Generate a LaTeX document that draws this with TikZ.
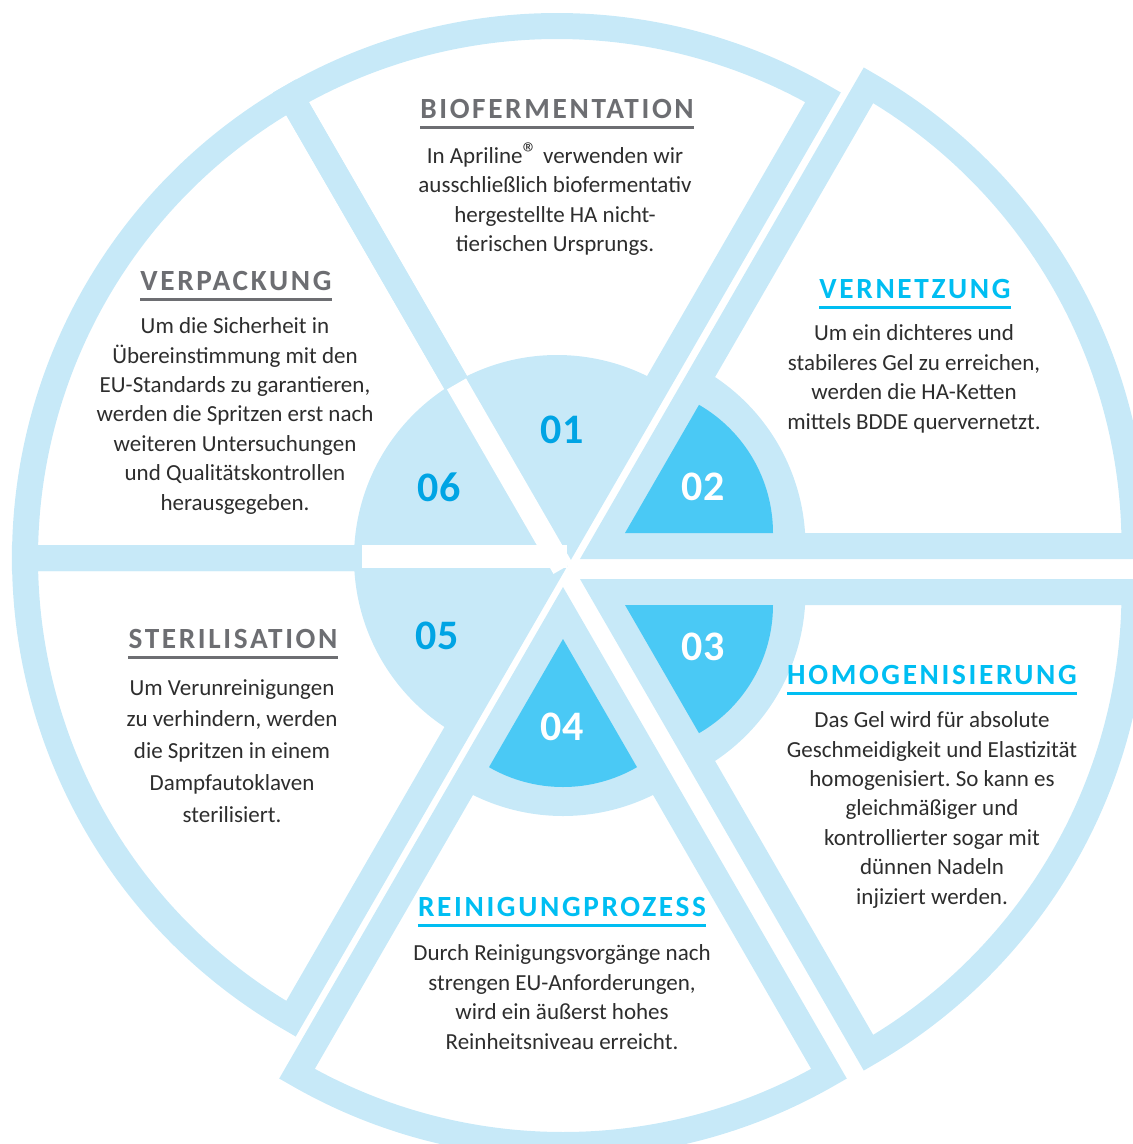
\documentclass[tikz,border=0pt]{standalone}
\usepackage{fontspec}
\setmainfont{Carlito}
\newfontfamily\hdfont[LetterSpace=9, UprightFont={* Bold}, BoldFont={* Bold}]{Carlito}
\usetikzlibrary{calc}
\definecolor{lb}{RGB}{199,233,248}
\definecolor{db}{RGB}{74,201,245}
\definecolor{nb}{RGB}{0,164,228}
\definecolor{hb}{RGB}{0,190,242}
\definecolor{hg}{RGB}{109,110,114}
\definecolor{tx}{RGB}{45,45,45}
\frenchspacing
\tikzset{
 band/.style={draw=lb, line width=26pt, line join=miter, line cap=butt},
 lite/.style={fill=lb},
 dark/.style={fill=db},
 gap/.style={fill=white},
 num/.style={font=\bfseries\fontsize{42}{42}\selectfont, inner sep=0pt},
 hd/.style={font=\hdfont\fontsize{29.3}{30}\selectfont, inner sep=0pt, anchor=base},
 body/.style={font=\fontsize{23}{29.4}\selectfont, text=tx, align=center, inner sep=0pt, anchor=base},
 rule/.style={line width=3pt}
}
\begin{document}
\begin{tikzpicture}[x=1pt,y=-1pt]
\useasboundingbox (0,0) rectangle (1133,1144);
\clip (0,0) rectangle (1133,1144);
\coordinate (O) at (557,558);
\coordinate (P2) at (602.5,546);
\coordinate (P3) at (602.5,592);
\coordinate (P4) at (563,613);
\coordinate (A2) at (625,533);
\coordinate (A3) at (625,605);
\coordinate (A4) at (563,639);
% outer bands
\draw[band] (O) -- ($(O)+(-120:532)$) arc[start angle=-120,end angle=-60,radius=532] -- (O);
\draw[band] (O) -- ($(O)+(180:532)$) arc[start angle=180,end angle=240,radius=532] -- (O);
\draw[band] (O) -- ($(O)+(120:532)$) arc[start angle=120,end angle=180,radius=532] -- (O);
\draw[band] (P2) -- ($(P2)+(-60:532)$) arc[start angle=-60,end angle=0,radius=532] -- cycle;
\draw[band] (P3) -- ($(P3)+(0:532)$) arc[start angle=0,end angle=60,radius=532] -- cycle;
\draw[band] (P4) -- ($(P4)+(60:532)$) arc[start angle=60,end angle=120,radius=532] -- cycle;
% inner light parts
\fill[lite] (O) -- ($(O)+(-120:203)$) arc[start angle=-120,end angle=-60,radius=203] -- cycle;
\fill[lite] (O) -- ($(O)+(180:203)$) arc[start angle=180,end angle=240,radius=203] -- cycle;
\fill[lite] (O) -- ($(O)+(120:203)$) arc[start angle=120,end angle=180,radius=203] -- cycle;
\fill[lite] (P2) -- ($(P2)+(-60:203)$) arc[start angle=-60,end angle=0,radius=203] -- cycle;
\fill[lite] (P3) -- ($(P3)+(0:203)$) arc[start angle=0,end angle=60,radius=203] -- cycle;
\fill[lite] (P4) -- ($(P4)+(60:203)$) arc[start angle=60,end angle=120,radius=203] -- cycle;
% dark parts
\fill[dark] (A2) -- ($(A2)+(-60:148)$) arc[start angle=-60,end angle=0,radius=148] -- cycle;
\fill[dark] (A3) -- ($(A3)+(0:148)$) arc[start angle=0,end angle=60,radius=148] -- cycle;
\fill[dark] (A4) -- ($(A4)+(60:148)$) arc[start angle=60,end angle=120,radius=148] -- cycle;
% white spokes
\fill[gap] ($(O)+(-120:-12)+(-30:11)$) -- ($(O)+(-120:201)+(-30:11)$) -- ($(O)+(-120:201)+(150:11)$) -- ($(O)+(-120:-12)+(150:11)$) -- cycle;
\fill[gap] ($(O)+(-195,-13)$) rectangle ($(O)+(10,10)$);
% numbers
\node[num, text=nb] (n1) at (562,430) {01};
\node[num, text=white] (n2) at (703,487) {02};
\node[num, text=white] (n3) at (703,647) {03};
\node[num, text=white] (n4) at (562,727) {04};
\node[num, text=nb] (n5) at (437,636) {05};
\node[num, text=nb] (n6) at (439,487) {06};
% headings
\node[hd, text=hg] (h1) at (557,118) {BIOFERMENTATION};
\node[hd, text=hb] (h2) at (915,298) {VERNETZUNG};
\node[hd, text=hb] (h3) at (932,684) {HOMOGENISIERUNG};
\node[hd, text=hb] (h4) at (562,916) {REINIGUNGPROZESS};
\node[hd, text=hg] (h5) at (233,648) {STERILISATION};
\node[hd, text=hg] (h6) at (236,290) {VERPACKUNG};
\draw[rule, hg] ([yshift=-9pt]h1.base west) -- ([yshift=-9pt]h1.base east);
\draw[rule, hb] ([yshift=-9pt]h2.base west) -- ([yshift=-9pt]h2.base east);
\draw[rule, hb] ([yshift=-9pt]h3.base west) -- ([yshift=-9pt]h3.base east);
\draw[rule, hb] ([yshift=-9pt]h4.base west) -- ([yshift=-9pt]h4.base east);
\draw[rule, hg] ([yshift=-9pt]h5.base west) -- ([yshift=-9pt]h5.base east);
\draw[rule, hg] ([yshift=-9pt]h6.base west) -- ([yshift=-9pt]h6.base east);
% body texts (anchor = baseline of last line)
\node[body] (b1) at (555,251.5) {In Apriline{\fontsize{30}{30}\selectfont ®} verwenden wir\\ausschließlich biofermentativ\\hergestellte HA nicht-\\tierischen Ursprungs.};
\node[body] (b2) at (914,429) {Um ein dichteres und\\stabileres Gel zu erreichen,\\werden die HA-Ketten\\mittels BDDE quervernetzt.};
\node[body] (b3) at (932,904) {Das Gel wird für absolute\\Geschmeidigkeit und Elastizität\\homogenisiert. So kann es\\gleichmäßiger und\\kontrollierter sogar mit\\dünnen Nadeln\\injiziert werden.};
\node[body] (b4) at (562,1049) {Durch Reinigungsvorgänge nach\\strengen EU-Anforderungen,\\wird ein äußerst hohes\\Reinheitsniveau erreicht.};
\node[body, font=\fontsize{23}{31.7}\selectfont] (b5) at (232,822) {Um Verunreinigungen\\zu verhindern, werden\\die Spritzen in einem\\Dampfautoklaven\\sterilisiert.};
\node[body] (b6) at (235,510) {Um die Sicherheit in\\Übereinstimmung mit den\\EU-Standards zu garantieren,\\werden die Spritzen erst nach\\weiteren Untersuchungen\\und Qualitätskontrollen\\herausgegeben.};
\end{tikzpicture}
\end{document}
